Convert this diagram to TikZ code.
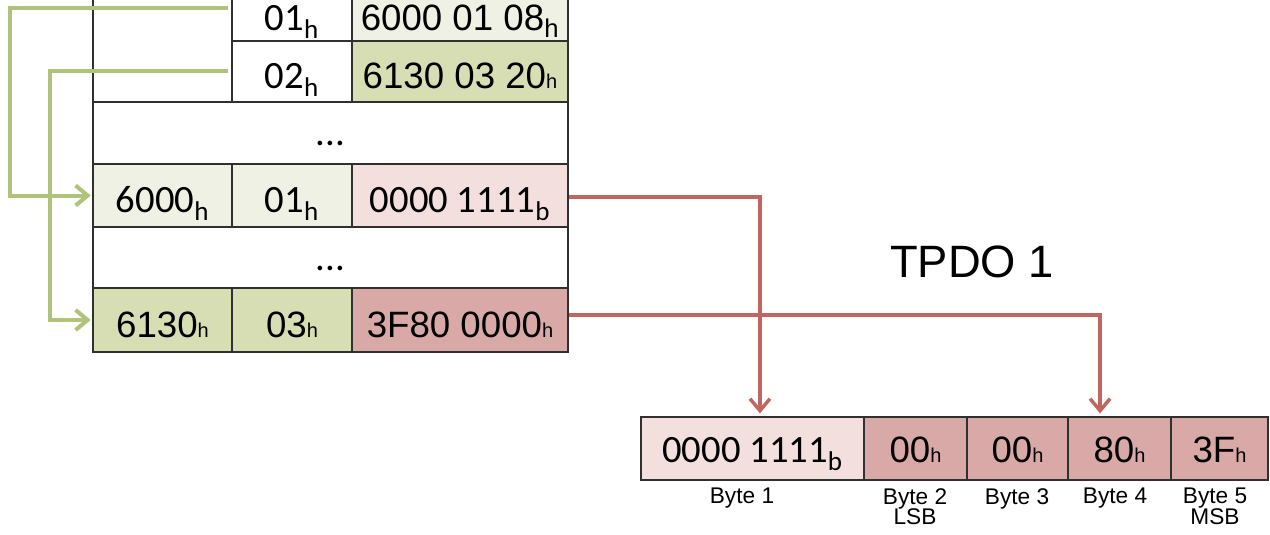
\documentclass[tikz,border=0pt]{standalone}
\usepackage{fontspec}
\setmainfont{Liberation Sans}
\newfontfamily\calfont{Carlito}
\newfontfamily\arfont{Liberation Sans}
\usetikzlibrary{arrows.meta}
\definecolor{lgreen}{HTML}{EEF1E3}
\definecolor{mgreen}{HTML}{D7DEB4}
\definecolor{lpink}{HTML}{F2DFDE}
\definecolor{rose}{HTML}{D8A9A7}
\definecolor{redline}{HTML}{C0655F}
\definecolor{greenline}{HTML}{AFC47A}
\definecolor{bord}{HTML}{303030}
\newcommand\calt{\calfont\fontsize{29pt}{34pt}\selectfont}
\newcommand\arit{\arfont\fontsize{27.5pt}{32pt}\selectfont}
\newcommand\hsm{{\fontsize{15pt}{15pt}\selectfont h}}
\newcommand\mysub[1]{\textsubscript{#1}}
\begin{document}
\begin{tikzpicture}[x=0.75pt,y=-0.75pt,
  cell/.style={draw=bord, line width=1.4pt, inner sep=0pt, text height=26pt, text depth=0pt, anchor=center},
  topcell/.style={cell, text height=31pt},
  dotcell/.style={cell, text height=19pt},
  bcell/.style={cell, text height=21.5pt},
  gline/.style={draw=greenline, line width=3pt, -{Straight Barb[length=9pt,width=15pt]}, shorten >=1pt},
  rline/.style={draw=redline, line width=2.6pt, -{Straight Barb[length=9pt,width=15pt]}, shorten >=2pt},
  blabel/.style={font=\arfont\fontsize{17pt}{15.5pt}\selectfont, align=center, anchor=north, inner sep=0pt}]
\useasboundingbox (0,0) rectangle (1270,535);
\clip (0,0) rectangle (1270,535);
\fill[white] (0,0) rectangle (1270,535);
% left table
\node[cell, fill=white, minimum width=139*0.75pt, minimum height=123*0.75pt] (r12c0) at (162.5,40.5) {};
\node[topcell, fill=white, minimum width=120*0.75pt, minimum height=62*0.75pt, font=\calt] (r1c1) at (292,10) {01\mysub{h}};
\node[topcell, fill=lgreen, minimum width=216*0.75pt, minimum height=62*0.75pt, font=\arit] (r1c2) at (460,10) {6000 01 08\mysub{h}};
\node[cell, fill=white, minimum width=120*0.75pt, minimum height=61*0.75pt, font=\calt] (r2c1) at (292,71.5) {02\mysub{h}};
\node[cell, fill=mgreen, minimum width=216*0.75pt, minimum height=61*0.75pt, font=\arit] (r2c2) at (460,71.5) {6130 03 20\hsm};
\node[dotcell, fill=white, minimum width=475*0.75pt, minimum height=62*0.75pt, font=\calt] (r3) at (330.5,133) {...};
\node[cell, fill=lgreen, minimum width=139*0.75pt, minimum height=63*0.75pt, font=\calt] (r4c0) at (162.5,195.5) {6000\mysub{h}};
\node[cell, fill=lgreen, minimum width=120*0.75pt, minimum height=63*0.75pt, font=\calt] (r4c1) at (292,195.5) {01\mysub{h}};
\node[cell, fill=lpink, minimum width=216*0.75pt, minimum height=63*0.75pt, font=\calt] (r4c2) at (460,195.5) {0000 1111\mysub{b}};
\node[dotcell, fill=white, minimum width=475*0.75pt, minimum height=61*0.75pt, font=\calt] (r5) at (330.5,257.5) {...};
\node[cell, fill=mgreen, minimum width=139*0.75pt, minimum height=64*0.75pt, font=\arit] (r6c0) at (162.5,320) {6130\hsm};
\node[cell, fill=mgreen, minimum width=120*0.75pt, minimum height=64*0.75pt, font=\arit] (r6c1) at (292,320) {03\hsm};
\node[cell, fill=rose, minimum width=216*0.75pt, minimum height=64*0.75pt, font=\arit] (r6c2) at (460,320) {3F80 0000\hsm};
% bottom table
\node[bcell, fill=lpink, minimum width=223*0.75pt, minimum height=63*0.75pt, font=\calt] (b1) at (752.5,448.5) {0000 1111\mysub{b}};
\node[bcell, fill=rose, minimum width=103*0.75pt, minimum height=63*0.75pt, font=\arit] (b2) at (915.5,448.5) {00\hsm};
\node[bcell, fill=rose, minimum width=101*0.75pt, minimum height=63*0.75pt, font=\arit] (b3) at (1017.5,448.5) {00\hsm};
\node[bcell, fill=rose, minimum width=103*0.75pt, minimum height=63*0.75pt, font=\arit] (b4) at (1119.5,448.5) {80\hsm};
\node[bcell, fill=rose, minimum width=97*0.75pt, minimum height=63*0.75pt, font=\arit] (b5) at (1219.5,448.5) {3F\hsm};
% labels
\node[blabel] (lb1) at (742,488) {Byte 1};
\node[blabel] (lb2) at (915,488) {Byte 2\\LSB};
\node[blabel] (lb3) at (1017,488) {Byte 3};
\node[blabel] (lb4) at (1115,488) {Byte 4};
\node[blabel] (lb5) at (1215,488) {Byte 5\\MSB};
\node[font=\arfont\fontsize{34pt}{40pt}\selectfont, inner sep=0pt] (tpdo) at (972,262) {TPDO 1};
% green connectors
\coordinate (g1) at (228,8);
\coordinate (g1c) at (10,8);
\coordinate (g2) at (228,71);
\coordinate (g2c) at (50,71);
\draw[gline] (g1) -- (g1c) |- (r4c0.west);
\draw[gline] (g2) -- (g2c) |- (r6c0.west);
% red connectors
\draw[rline] ([yshift=-1pt]r4c2.east) -| ([xshift=5.6pt]b1.north);
\draw[rline] ([yshift=3.75pt]r6c2.east) -| ([xshift=-14.6pt]b4.north);
\end{tikzpicture}
\end{document}
